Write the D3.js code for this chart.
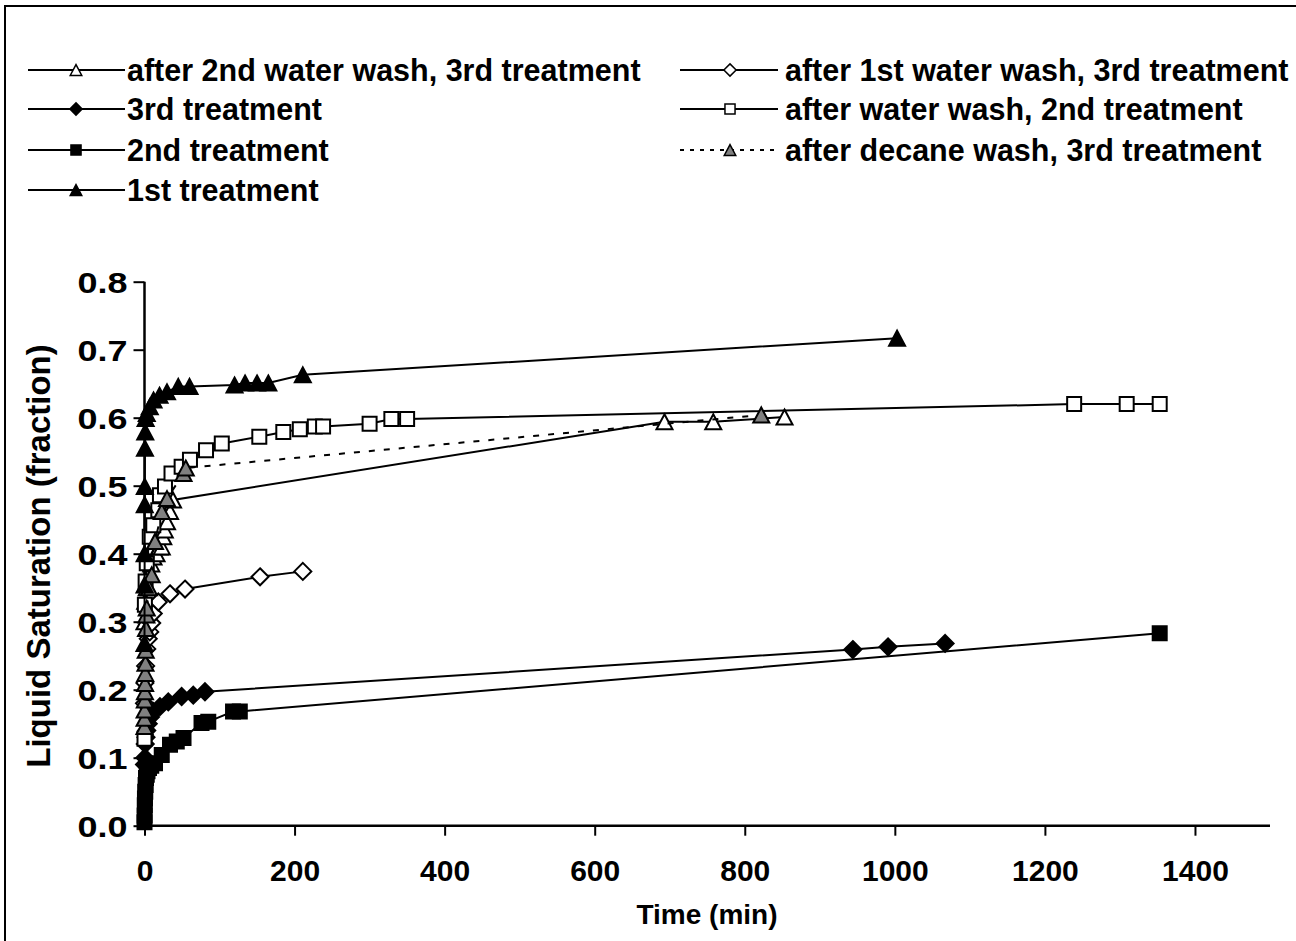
<!DOCTYPE html>
<html>
<head>
<meta charset="utf-8">
<script src="https://cdn.jsdelivr.net/npm/d3@7"></script>
<style>
  html, body { margin: 0; padding: 0; background: #fff; }
  svg { display: block; font-family: "Liberation Sans", Arial, sans-serif; font-weight: bold; }
</style>
</head>
<body>
<svg id="chart" width="1296" height="941"></svg>
<script>
// Liquid saturation vs. time for each treatment / wash step
const tAfter2ndWaterWash3rd = [0, 1, 3, 6, 9, 12, 16, 20, 23, 25, 27, 30, 34, 38, 693, 758, 853];
const sAfter2ndWaterWash3rd = [0.30, 0.33, 0.35, 0.37, 0.385, 0.395, 0.40, 0.41, 0.41, 0.425, 0.435, 0.447, 0.462, 0.479, 0.594, 0.594, 0.601];

const tAfter1stWaterWash3rd = [0, 0.5, 1.5, 3, 5, 7, 9.6, 11.7, 18.4, 34, 54, 154, 211];
const sAfter1stWaterWash3rd = [0.18, 0.21, 0.235, 0.26, 0.275, 0.285, 0.298, 0.312, 0.329, 0.341, 0.348, 0.366, 0.374];

const t3rdTreatment = [0, 0.5, 1, 2, 3, 5, 8, 11.7, 20.6, 31.7, 49.5, 65, 80.6, 944, 991, 1067];
const s3rdTreatment = [0.09, 0.10, 0.12, 0.13, 0.14, 0.15, 0.16, 0.168, 0.175, 0.182, 0.19, 0.192, 0.197, 0.259, 0.263, 0.268];

const tAfterWaterWash2nd = [0, 0.5, 1.5, 3, 7, 11.7, 18.4, 20.6, 27.3, 36, 49.5, 60.6, 82, 103, 153, 185, 207, 227, 238, 300, 329, 350, 1239, 1309, 1353];
const sAfterWaterWash2nd = [0.128, 0.325, 0.359, 0.386, 0.425, 0.442, 0.464, 0.486, 0.499, 0.518, 0.528, 0.538, 0.552, 0.562, 0.572, 0.579, 0.583, 0.587, 0.587, 0.591, 0.598, 0.598, 0.62, 0.62, 0.62];

const t2ndTreatment = [0, 0.2, 0.4, 0.6, 1, 1.5, 2, 3, 4, 6, 9, 14, 23, 34, 43, 52, 76, 85, 118, 127, 1353];
const s2ndTreatment = [0.005, 0.015, 0.03, 0.04, 0.05, 0.06, 0.07, 0.075, 0.08, 0.085, 0.088, 0.092, 0.104, 0.119, 0.124, 0.129, 0.151, 0.153, 0.168, 0.168, 0.283];

const tAfterDecaneWash3rd = [0, 0.1, 0.2, 0.4, 0.6, 0.8, 1, 1.3, 1.6, 2, 2.5, 3, 6, 9.6, 14, 23, 30, 52, 55, 822];
const sAfterDecaneWash3rd = [0.146, 0.158, 0.17, 0.185, 0.197, 0.209, 0.224, 0.239, 0.258, 0.29, 0.31, 0.32, 0.35, 0.369, 0.418, 0.462, 0.481, 0.518, 0.526, 0.604];

const t1stTreatment = [0, 0.1, 0.2, 0.3, 0.4, 0.6, 1, 1.5, 3, 7, 12, 20, 30, 45, 60, 120, 134, 150, 165, 211, 1003];
const s1stTreatment = [0.268, 0.354, 0.40, 0.472, 0.499, 0.555, 0.579, 0.599, 0.606, 0.616, 0.626, 0.633, 0.638, 0.646, 0.646, 0.648, 0.651, 0.651, 0.651, 0.663, 0.717];

const xTickValues = [0, 200, 400, 600, 800, 1000, 1200, 1400];
const yTickValues = [0, 0.1, 0.2, 0.3, 0.4, 0.5, 0.6, 0.7, 0.8];

const seriesNames = [
  "after 2nd water wash, 3rd treatment",
  "after 1st water wash, 3rd treatment",
  "3rd treatment",
  "after water wash, 2nd treatment",
  "2nd treatment",
  "after decane wash, 3rd treatment",
  "1st treatment"
];

// marker shape / fill / line style per series (drawing order = legend order)
const series = [
  { name: seriesNames[0], t: tAfter2ndWaterWash3rd, s: sAfter2ndWaterWash3rd, shape: "triangle", fill: "#fff", dash: null, col: 0, row: 0 },
  { name: seriesNames[1], t: tAfter1stWaterWash3rd, s: sAfter1stWaterWash3rd, shape: "diamond", fill: "#fff", dash: null, col: 1, row: 0 },
  { name: seriesNames[2], t: t3rdTreatment, s: s3rdTreatment, shape: "diamond", fill: "#000", dash: null, col: 0, row: 1 },
  { name: seriesNames[3], t: tAfterWaterWash2nd, s: sAfterWaterWash2nd, shape: "square", fill: "#fff", dash: null, col: 1, row: 1 },
  { name: seriesNames[4], t: t2ndTreatment, s: s2ndTreatment, shape: "square", fill: "#000", dash: null, col: 0, row: 2 },
  { name: seriesNames[5], t: tAfterDecaneWash3rd, s: sAfterDecaneWash3rd, shape: "triangle", fill: "#808080", dash: "6,9", col: 1, row: 2 },
  { name: seriesNames[6], t: t1stTreatment, s: s1stTreatment, shape: "triangle", fill: "#000", dash: null, col: 0, row: 3 }
];

const svg = d3.select("#chart");

// outer chart frame
svg.append("rect").attr("x", 5).attr("y", 6).attr("width", 1300).attr("height", 950)
  .attr("fill", "none").attr("stroke", "#000").attr("stroke-width", 2);

const x = d3.scaleLinear().domain([0, 1500]).range([144.5, 1270]);
const y = d3.scaleLinear().domain([0, 0.8]).range([825.7, 281.7]);

function markerPath(shape, k) {
  if (shape === "triangle") {
    const w = 16 * k, h = 15 * k;
    return `M0,${-h / 2}L${w / 2},${h / 2}L${-w / 2},${h / 2}Z`;
  }
  if (shape === "diamond") {
    const r = 8.5 * k;
    return `M0,${-r}L${r},0L0,${r}L${-r},0Z`;
  }
  const a = 7 * k;
  return `M${-a},${-a}H${a}V${a}H${-a}Z`;
}

// axes
const xAxis = svg.append("g").attr("transform", `translate(0,${y(0)})`)
  .call(d3.axisBottom(x).tickValues(xTickValues).tickSize(10).tickFormat(d3.format("d")));
xAxis.select(".domain").attr("d", `M${x(0)},0H${x(1500)}`);
xAxis.selectAll(".tick text").attr("y", 55).attr("dy", null);

const yAxis = svg.append("g").attr("transform", `translate(${x(0)},0)`)
  .call(d3.axisLeft(y).tickValues(yTickValues).tickSize(11).tickPadding(6).tickFormat(d3.format(".1f")));
yAxis.select(".domain").attr("d", `M0,${y(0.8)}V${y(0)}`);
yAxis.selectAll(".tick text").attr("dy", "0.36em")
  .attr("textLength", 50).attr("lengthAdjust", "spacingAndGlyphs");

svg.selectAll(".domain").attr("stroke", "#000").attr("stroke-width", 2.5);
svg.selectAll(".tick line").attr("stroke", "#000").attr("stroke-width", 2);
svg.selectAll(".tick text").attr("fill", "#000").attr("font-size", 30).attr("font-weight", "bold")
  .attr("font-family", "Liberation Sans, Arial, sans-serif");

// axis titles
svg.append("text").attr("x", 707).attr("y", 924).attr("text-anchor", "middle")
  .attr("font-size", 28).text("Time (min)");
svg.append("text").attr("transform", `translate(50,556) rotate(-90)`).attr("text-anchor", "middle")
  .attr("font-size", 33).text("Liquid Saturation (fraction)");

// series lines and markers
const plot = svg.append("g");
series.forEach(sr => {
  const pts = sr.t.map((t, i) => [t, sr.s[i]]);
  const g = plot.append("g");
  g.append("path").datum(pts)
    .attr("d", d3.line().x(d => x(d[0])).y(d => y(d[1])))
    .attr("fill", "none").attr("stroke", "#000").attr("stroke-width", 2)
    .attr("stroke-dasharray", sr.dash);
  g.selectAll("path.m").data(pts).join("path").attr("class", "m")
    .attr("transform", d => `translate(${x(d[0])},${y(d[1])})`)
    .attr("d", markerPath(sr.shape, 1))
    .attr("fill", sr.fill).attr("stroke", "#000").attr("stroke-width", 2);
});

// legend
const legCols = [{ x0: 28, x1: 125, mx: 76, tx: 127 }, { x0: 680, x1: 778, mx: 730, tx: 785 }];
const legRows = [70, 109, 150, 190];
series.forEach(sr => {
  const c = legCols[sr.col], ry = legRows[sr.row];
  const g = svg.append("g");
  g.append("line").attr("x1", c.x0).attr("x2", c.x1).attr("y1", ry).attr("y2", ry)
    .attr("stroke", "#000").attr("stroke-width", 2).attr("stroke-dasharray", sr.dash ? "4,6" : null);
  g.append("path").attr("transform", `translate(${c.mx},${ry})`).attr("d", markerPath(sr.shape, 0.72))
    .attr("fill", sr.fill).attr("stroke", "#000").attr("stroke-width", 1.5);
  g.append("text").attr("x", c.tx).attr("y", ry + 11).attr("font-size", 30.5).text(sr.name);
});
</script>
</body>
</html>
